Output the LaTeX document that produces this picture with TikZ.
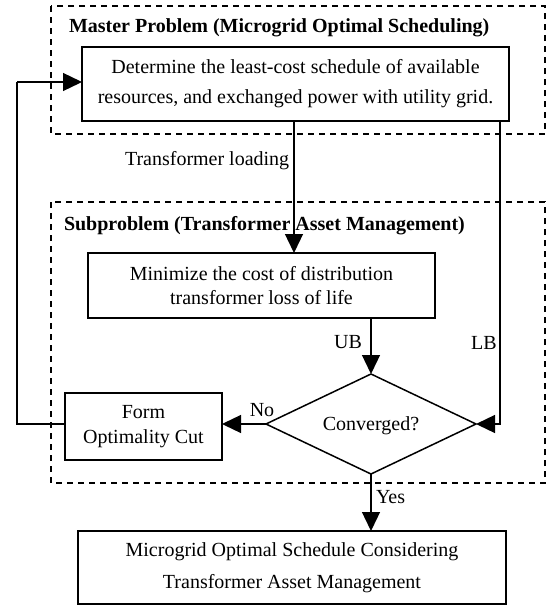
\documentclass[tikz,border=0pt]{standalone}
\usepackage{fontspec}
\setmainfont{Liberation Serif}
\usetikzlibrary{arrows.meta,shapes.geometric}
\begin{document}
\begin{tikzpicture}[x=1pt,y=-1pt,
  every node/.style={inner sep=0pt,outer sep=0pt},
  txt/.style={font=\fontsize{20}{24}\selectfont},
  procbox/.style={draw,line width=1.5pt,align=center,txt},
  groupbox/.style={draw,line width=1.4pt,dash pattern=on 6pt off 5pt},
  grouptitle/.style={anchor=west,font=\fontsize{20}{24}\selectfont\bfseries},
  conn/.style={line width=1.3pt},
  arr/.style={conn,-{Triangle[width=18pt,length=19pt]}},
  lbl/.style={txt}
]
\useasboundingbox (0,0) rectangle (547,605);

% group boxes
\draw[groupbox] (51,6) rectangle (545,134);
\draw[groupbox] (51,202) rectangle (545,483);

\node[grouptitle] (mtitle) at (69,28) {Master Problem (Microgrid Optimal Scheduling)};
\node[grouptitle] (stitle) at (64,226) {Subproblem (Transformer Asset Management)};

% nodes
\node[procbox,minimum width=427pt,minimum height=74pt,font=\fontsize{20}{30}\selectfont] (master) at (295.5,84)
  {Determine the least-cost schedule of available\\resources, and exchanged power with utility grid.};
\node[procbox,minimum width=347pt,minimum height=65pt,font=\fontsize{20}{24}\selectfont] (sub) at (261.5,285.5)
  {Minimize the cost of distribution\\transformer loss of life};
\node[draw,diamond,line width=1.5pt,aspect=2.1,minimum width=210pt,minimum height=100pt,inner sep=0pt,txt] (conv) at (371,424) {};
\node[txt] (convtxt) at (371,426) {Converged?};
\node[procbox,minimum width=157pt,minimum height=67pt,font=\fontsize{20}{25}\selectfont] (cut) at (143.5,426.5)
  {Form\\Optimality Cut};
\node[procbox,minimum width=428pt,minimum height=73pt,font=\fontsize{20}{32}\selectfont] (final) at (292,567.5)
  {Microgrid Optimal Schedule Considering\\Transformer Asset Management};

% coordinates
\coordinate (lbTop) at (500,121);
\coordinate (lbCorner) at (500,424);
\coordinate (loadTop) at (294,121);
\coordinate (fbLeftLow) at (17,424);
\coordinate (fbLeftHigh) at (17,82);
\coordinate (fbEnd) at (82,82);

% connectors
\draw[arr] (loadTop) -- (loadTop |- sub.north);
\draw[arr] (conv.north |- sub.south) -- (conv.north);
\draw[arr] (lbTop) -- (lbCorner) -- (conv.east);
\draw[arr] (conv.west) -- (conv.west -| cut.east);
\draw[conn] (cut.west |- conv.west) -- (fbLeftLow) -- (fbLeftHigh);
\draw[arr] (fbLeftHigh) -- (fbEnd);
\draw[arr] (conv.south) -- (conv.south |- final.north);

% labels
\node[lbl,anchor=west] (loadlbl) at (125,161) {Transformer loading};
\node[lbl] (ublbl) at (348,342) {UB};
\node[lbl] (lblbl) at (484,343) {LB};
\node[lbl] (nolbl) at (262,410) {No};
\node[lbl,anchor=west] (yeslbl) at (376,497) {Yes};
\end{tikzpicture}
\end{document}
